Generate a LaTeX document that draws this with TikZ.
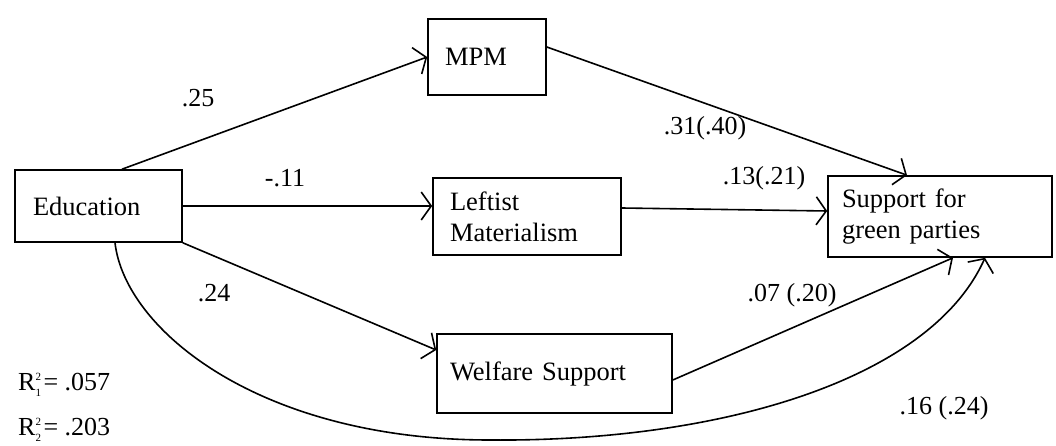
\documentclass[tikz,border=0pt]{standalone}
\usepackage{fontspec}
\setmainfont{Liberation Serif}
\usetikzlibrary{arrows.meta}
\begin{document}
\begin{tikzpicture}[x=1pt,y=-1pt,
  box/.style={draw, line width=1.6pt, inner sep=0pt, align=left, font=\fontsize{26.5}{31}\selectfont},
  conn/.style={line width=1.6pt, -{Straight Barb[length=10pt,width=28pt,line width=1.6pt]}},
  lab/.style={font=\fontsize{26}{30}\selectfont, inner sep=0pt}]
\useasboundingbox (0,0) rectangle (1056,446);

\node[box, minimum width=167pt, minimum height=72pt, text width=131pt] (edu) at (98.5,206) {Education};
\node[box, minimum width=118pt, minimum height=76pt, text width=84pt] (mpm) at (487,57) {MPM};
\node[box, minimum width=188pt, minimum height=77pt, text width=154pt] (left) at (527,216.5) {Leftist\\Materialism};
\node[box, minimum width=224pt, minimum height=81pt, text width=196pt] (sup) at (940,216.5) {Support for\\green parties};
\node[box, minimum width=235pt, minimum height=79pt, text width=209pt] (wel) at (554.5,373.5) {Welfare Support};

\draw[conn] ([xshift=23.5pt]edu.north) -- (mpm.west);
\draw[conn] (edu.east) -- (edu.east -| left.west);
\draw[conn] (edu.south east) -- ([yshift=23.5pt]wel.west);
\draw[conn] ([yshift=10pt]mpm.east) -- ([xshift=-33pt]sup.north);
\draw[conn] ([yshift=8.5pt]left.east) -- ([yshift=5.5pt]sup.west);
\draw[conn] ([yshift=-6.5pt]wel.east) -- ([xshift=13pt]sup.south);
\draw[conn] ([xshift=16.5pt]edu.south) .. controls (125,330) and (260,440) .. (490,440)
  .. controls (720,442) and (930,380) .. ([xshift=45pt]sup.south);

\node[lab] (l25) at (198,98) {.25};
\node[lab] (l11) at (285,178) {-.11};
\node[lab] (l24) at (214,293) {.24};
\node[lab] (l31) at (705,128) {.31(.40)};
\node[lab] (l13) at (764,178) {.13(.21)};
\node[lab] (l07) at (792,295) {.07 (.20)};
\node[lab] (l16) at (944,408) {.16 (.24)};
\node[lab, anchor=base west] (r1) at (18,390) {R$^{\mbox{\fontsize{11}{11}\selectfont 2}}_{\mbox{\fontsize{11}{11}\selectfont 1}}$\hspace{2pt}= .057};
\node[lab, anchor=base west] (r2) at (18,435) {R$^{\mbox{\fontsize{11}{11}\selectfont 2}}_{\mbox{\fontsize{11}{11}\selectfont 2}}$\hspace{2pt}= .203};
\end{tikzpicture}
\end{document}
